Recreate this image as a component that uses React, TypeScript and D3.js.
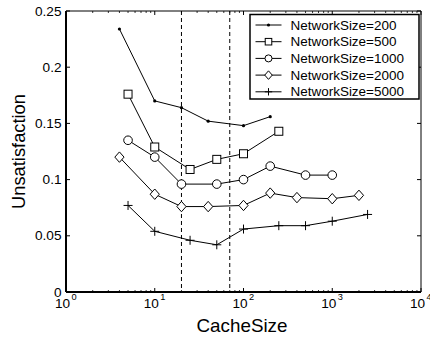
import React, { useLayoutEffect, useRef, useState } from "react";
import * as d3 from "d3";

const W = 430;
const H = 337;
const margin = { left: 66, right: 9, top: 11, bottom: 45 };

const xDomain: [number, number] = [1, 10000];
const yDomain: [number, number] = [0, 0.25];
const xTickExps = [0, 1, 2, 3, 4];
const yTicks = [0, 0.05, 0.1, 0.15, 0.2, 0.25];
const yTickLabels = ["0", "0.05", "0.1", "0.15", "0.2", "0.25"];
const dashedX = [20, 70];

const seriesNames = [
  "NetworkSize=200",
  "NetworkSize=500",
  "NetworkSize=1000",
  "NetworkSize=2000",
  "NetworkSize=5000",
];
const markers = ["dot", "square", "circle", "diamond", "plus"];

const x200 = [4, 10, 20, 40, 100, 200];
const y200 = [0.234, 0.17, 0.164, 0.152, 0.148, 0.156];
const x500 = [5, 10, 25, 50, 100, 250];
const y500 = [0.176, 0.129, 0.109, 0.118, 0.123, 0.143];
const x1000 = [5, 10, 20, 50, 100, 200, 500, 1000];
const y1000 = [0.135, 0.12, 0.096, 0.096, 0.1, 0.112, 0.104, 0.104];
const x2000 = [4, 10, 20, 40, 100, 200, 400, 1000, 2000];
const y2000 = [0.12, 0.087, 0.076, 0.076, 0.077, 0.088, 0.084, 0.083, 0.086];
const x5000 = [5, 10, 25, 50, 100, 250, 500, 1000, 2500];
const y5000 = [0.077, 0.054, 0.046, 0.042, 0.056, 0.059, 0.059, 0.063, 0.069];

const seriesX = [x200, x500, x1000, x2000, x5000];
const seriesY = [y200, y500, y1000, y2000, y5000];

const FONT = "'Liberation Sans', Arial, Helvetica, sans-serif";

function Marker({ type, cx, cy, s = 1 }: { type: string; cx: number; cy: number; s?: number }) {
  switch (type) {
    case "dot":
      return <circle cx={cx} cy={cy} r={1.6} fill="#000" />;
    case "square":
      return (
        <rect x={cx - 4 * s} y={cy - 4 * s} width={8 * s} height={8 * s} fill="#fff" stroke="#000" strokeWidth={1} />
      );
    case "circle":
      return <circle cx={cx} cy={cy} r={4.3 * s} fill="#fff" stroke="#000" strokeWidth={1} />;
    case "diamond":
      return (
        <path
          d={`M${cx},${cy - 5.2 * s}L${cx + 4.6 * s},${cy}L${cx},${cy + 5.2 * s}L${cx - 4.6 * s},${cy}Z`}
          fill="#fff"
          stroke="#000"
          strokeWidth={1}
        />
      );
    case "plus":
      return (
        <path
          d={`M${cx - 4.5 * s},${cy}H${cx + 4.5 * s}M${cx},${cy - 4.5 * s}V${cy + 4.5 * s}`}
          fill="none"
          stroke="#000"
          strokeWidth={1}
        />
      );
    default:
      return null;
  }
}

export default function App() {
  const x = d3.scaleLog().domain(xDomain).range([margin.left, W - margin.right]);
  const y = d3.scaleLinear().domain(yDomain).range([H - margin.bottom, margin.top]);
  const x0 = margin.left;
  const x1 = W - margin.right;
  const y0 = H - margin.bottom;
  const y1 = margin.top;

  const legRef = useRef<SVGTextElement>(null);
  const tickRef = useRef<SVGTextElement>(null);
  const xlabRef = useRef<SVGTextElement>(null);
  const ylabRef = useRef<SVGTextElement>(null);
  const [fs, setFs] = useState({ leg: 13.5, tick: 13.5, xlab: 18, ylab: 18, done: false });

  useLayoutEffect(() => {
    if (fs.done) return;
    const fit = (el: SVGTextElement | null, base: number, target: number) => {
      if (!el) return base;
      const w = el.getComputedTextLength();
      if (!w) return base;
      return (base * target) / w;
    };
    setFs({
      leg: fit(legRef.current, fs.leg, 106),
      tick: fit(tickRef.current, fs.tick, 26.5),
      xlab: fit(xlabRef.current, fs.xlab, 91),
      ylab: fit(ylabRef.current, fs.ylab, 115),
      done: true,
    });
  }, [fs.done]);

  const line = d3
    .line<[number, number]>()
    .x((d) => x(d[0]))
    .y((d) => y(d[1]));

  const minor: number[] = [];
  for (let e = 0; e < 4; e++) {
    for (let m = 2; m <= 9; m++) minor.push(m * Math.pow(10, e));
  }

  const legX = 250;
  const legY = 14.5;
  const legW = 169;
  const legH = 84.5;
  const rowH = 16.7;

  return (
    <svg
      width={W}
      height={H}
      style={{ position: "absolute", left: 0, top: 0, background: "#fff" }}
      fontFamily={FONT}
    >
      <rect x={0} y={0} width={W} height={H} fill="#fff" />
      {dashedX.map((d) => (
        <line key={d} x1={x(d)} x2={x(d)} y1={y1} y2={y0} stroke="#000" strokeWidth={1} strokeDasharray="4,3" />
      ))}
      {xTickExps.map((e) => {
        const px = x(Math.pow(10, e));
        return (
          <g key={"xt" + e}>
            <line x1={px} x2={px} y1={y0} y2={y0 - 4} stroke="#000" />
            <line x1={px} x2={px} y1={y1} y2={y1 + 4} stroke="#000" />
            <text x={px - 3.5} y={307.5} fontSize={fs.tick} textAnchor="middle">
              10
            </text>
            <text x={px + 8} y={300} fontSize={fs.tick * 0.68} textAnchor="middle">
              {e}
            </text>
          </g>
        );
      })}
      {minor.map((m) => {
        const px = x(m);
        return (
          <g key={"mt" + m}>
            <line x1={px} x2={px} y1={y0} y2={y0 - 2} stroke="#000" strokeWidth={0.8} />
            <line x1={px} x2={px} y1={y1} y2={y1 + 2} stroke="#000" strokeWidth={0.8} />
          </g>
        );
      })}
      {yTicks.map((t, i) => {
        const py = y(t);
        return (
          <g key={"yt" + t}>
            <line x1={x0} x2={x0 + 4} y1={py} y2={py} stroke="#000" />
            <line x1={x1} x2={x1 - 4} y1={py} y2={py} stroke="#000" />
            <text
              ref={i === 3 ? tickRef : undefined}
              x={x0 - 4.5}
              y={py + 4.6}
              fontSize={fs.tick}
              textAnchor="end"
            >
              {yTickLabels[i]}
            </text>
          </g>
        );
      })}
      {seriesX.map((xs, si) => {
        const pts: [number, number][] = xs.map((v, i) => [v, seriesY[si][i]]);
        return (
          <g key={"s" + si}>
            <path d={line(pts) || ""} fill="none" stroke="#000" strokeWidth={1} />
            {pts.map((p, i) => (
              <Marker key={i} type={markers[si]} cx={x(p[0])} cy={y(p[1])} />
            ))}
          </g>
        );
      })}
      <line x1={x0} x2={x1} y1={y1} y2={y1} stroke="#000" strokeWidth={1} />
      <line x1={x1} x2={x1} y1={y1} y2={y0} stroke="#000" strokeWidth={1} />
      <line x1={x0} x2={x1} y1={y0} y2={y0} stroke="#000" strokeWidth={2} />
      <line x1={x0} x2={x0} y1={y1} y2={y0} stroke="#000" strokeWidth={2} />
      <rect x={legX} y={legY} width={legW} height={legH} fill="#fff" stroke="#000" strokeWidth={1.5} />
      {seriesNames.map((n, i) => {
        const cy = legY + 10.5 + i * rowH;
        return (
          <g key={"l" + i}>
            <line x1={255.5} x2={281.5} y1={cy} y2={cy} stroke="#000" strokeWidth={1} />
            <Marker type={markers[i]} cx={268.5} cy={cy} s={0.82} />
            <text ref={i === 0 ? legRef : undefined} x={290.5} y={cy + 4.6} fontSize={fs.leg}>
              {n}
            </text>
          </g>
        );
      })}
      <text ref={xlabRef} x={242} y={331.5} fontSize={fs.xlab} textAnchor="middle">
        CacheSize
      </text>
      <text
        ref={ylabRef}
        transform={`translate(25,${(y0 + y1) / 2}) rotate(-90)`}
        fontSize={fs.ylab}
        textAnchor="middle"
      >
        Unsatisfaction
      </text>
    </svg>
  );
}
